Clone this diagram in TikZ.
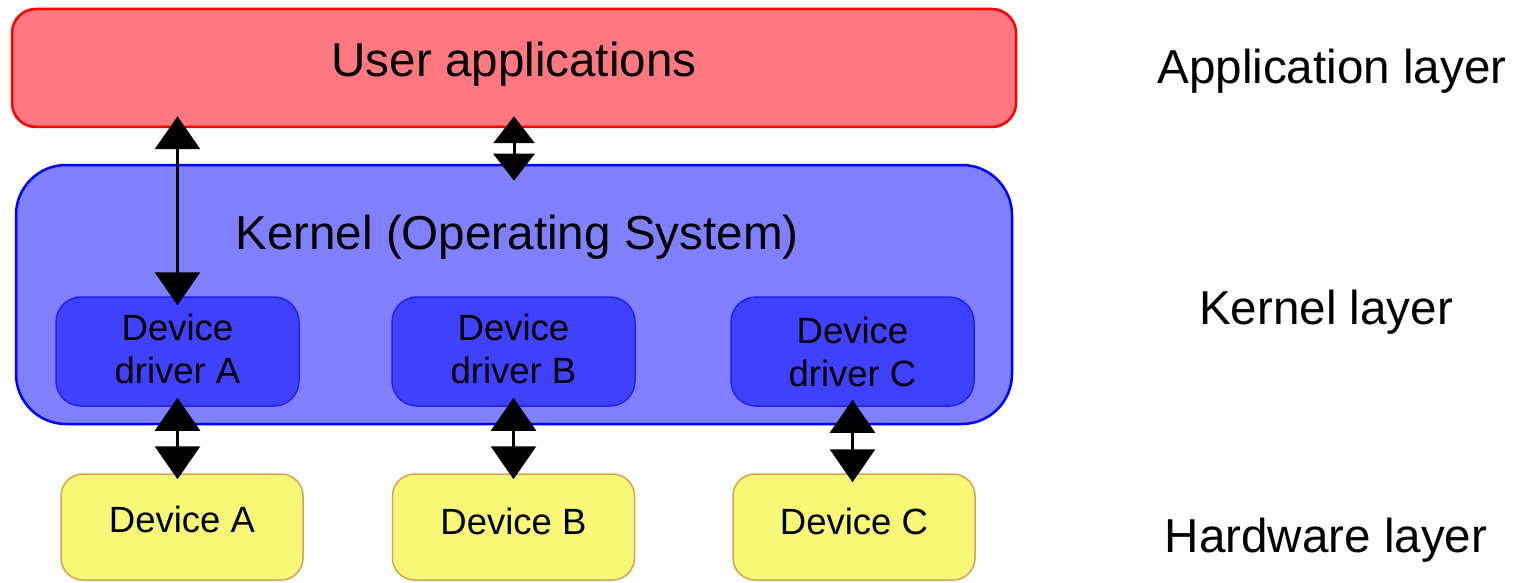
\documentclass[tikz,border=0pt]{standalone}
\usepackage{fontspec}
\setmainfont{Liberation Sans}
\usetikzlibrary{arrows.meta}
\definecolor{appfill}{RGB}{255,120,128}
\definecolor{appdraw}{RGB}{255,0,0}
\definecolor{kerfill}{RGB}{128,128,255}
\definecolor{kerdraw}{RGB}{0,0,255}
\definecolor{drvfill}{RGB}{64,64,255}
\definecolor{drvdraw}{RGB}{32,32,240}
\definecolor{devfill}{RGB}{248,248,120}
\definecolor{devdraw}{RGB}{212,164,80}
\begin{document}
\begin{tikzpicture}[x=1pt,y=-1pt,
  bigfont/.style={font=\fontsize{47.6}{56}\selectfont},
  smallfont/.style={font=\fontsize{36.5}{43}\selectfont},
  appbox/.style={draw=appdraw, fill=appfill, line width=2.5pt, rounded corners=24pt,
    minimum width=1004pt, minimum height=118pt, inner sep=0pt, bigfont,
    text height=34pt, text depth=16pt},
  kerbox/.style={draw=kerdraw, fill=kerfill, line width=2.5pt, rounded corners=50pt,
    minimum width=996pt, minimum height=259pt, inner sep=0pt},
  drvbox/.style={draw=drvdraw, fill=drvfill, line width=1.5pt, rounded corners=25pt,
    minimum width=243pt, minimum height=109pt, inner sep=0pt, align=center, smallfont,
    text depth=6pt},
  devbox/.style={draw=devdraw, fill=devfill, line width=1.5pt, rounded corners=22pt,
    minimum width=242pt, minimum height=106pt, inner sep=0pt, smallfont,
    text height=26pt, text depth=12pt},
  layertext/.style={bigfont, anchor=base},
  dar/.style={line width=3pt, {Triangle[width=45pt,length=33pt]}-{Triangle[width=45pt,length=33pt]}},
  sdar/.style={line width=3pt, {Triangle[width=41pt,length=27pt]}-{Triangle[width=41pt,length=27pt]}}
]
\useasboundingbox (0,0) rectangle (1523,583);
\node[appbox] (app) at (514,68) {User applications};
\node[kerbox] (kern) at (514,294.5) {};
\node[bigfont, anchor=base] (kt) at (517,249) {Kernel (Operating System)};
\node[drvbox] (drvA) at (177.5,351.5) {Device\\driver A};
\node[drvbox] (drvB) at (513.5,351.5) {Device\\driver B};
\node[drvbox, text depth=0pt] (drvC) at (852.5,351.5) {Device\\driver C};
\node[devbox, text depth=16pt] (devA) at (182,527) {Device A};
\node[devbox] (devB) at (513.5,527) {Device B};
\node[devbox] (devC) at (854,527) {Device C};
\node[layertext] (lapp) at (1332,84) {Application layer};
\node[layertext] (lker) at (1326,324) {Kernel layer};
\node[layertext] (lhw) at (1326,552) {Hardware layer};
\draw[dar, shorten <=-9pt, shorten >=-12pt] (drvA.north) -- (drvA.north |- app.south);
\draw[sdar, shorten <=-12pt, shorten >=-17pt] (app.south) -- (kern.north);
\draw[dar, shorten <=-9pt, shorten >=-6pt] (drvA.south) -- (drvA.south |- devA.north);
\draw[dar, shorten <=-9pt, shorten >=-6pt] (drvB.south) -- (drvB.south |- devB.north);
\draw[dar, shorten <=-7pt, shorten >=-9pt] (drvC.south) -- (drvC.south |- devC.north);
\end{tikzpicture}
\end{document}
